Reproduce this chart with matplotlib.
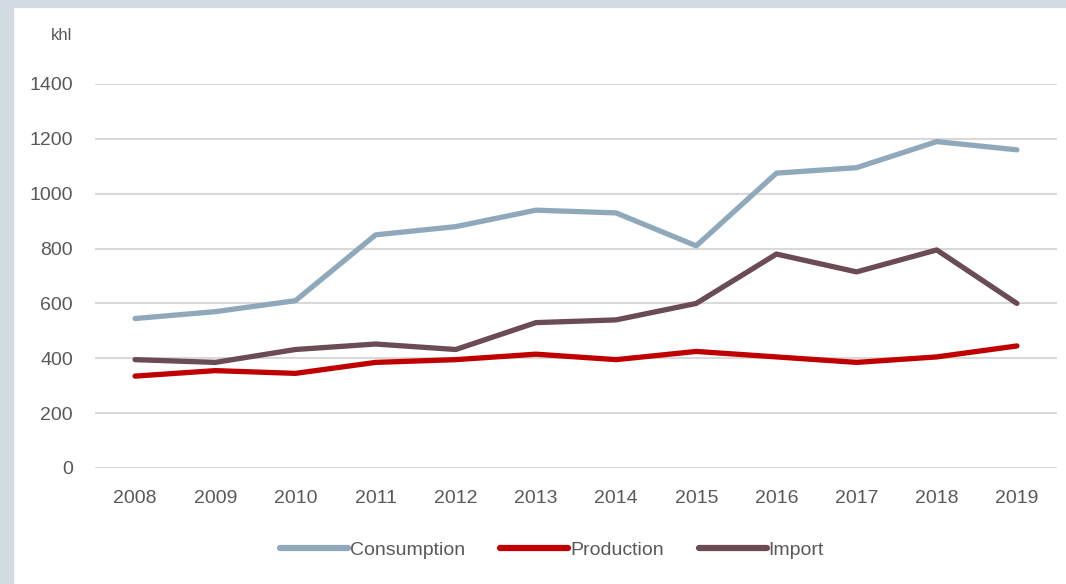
import matplotlib
matplotlib.use("Agg")
from matplotlib import pyplot as plt
from matplotlib.patches import Rectangle

years = ["2008", "2009", "2010", "2011", "2012", "2013",
         "2014", "2015", "2016", "2017", "2018", "2019"]
consumption = [545, 570, 610, 850, 880, 940, 930, 810, 1075, 1095, 1190, 1160]
production = [335, 355, 345, 385, 395, 415, 395, 425, 405, 385, 405, 445]
imports = [395, 385, 432, 452, 432, 530, 540, 600, 780, 715, 795, 600]

plt.rcParams['font.family'] = ['Liberation Sans Narrow', 'Liberation Sans', 'DejaVu Sans']
text_col = "#595959"

fig = plt.figure(figsize=(10.66, 5.84), dpi=100)
W, H = 1066, 584

# light frame strips on the left and top
fig.patches.append(Rectangle((0, 0), 13 / W, 1, transform=fig.transFigure,
                             color="#d3dce3", zorder=0))
fig.patches.append(Rectangle((0, 1 - 7 / H), 1, 7 / H, transform=fig.transFigure,
                             color="#d3dce3", zorder=0))

ax = fig.add_axes([95 / W, 1 - 468 / H, (1057 - 95) / W, (468 - 84) / H])
x = list(range(len(years)))

ax.plot(x, consumption, color="#8fa9bb", lw=3.8, solid_capstyle="round", label="Consumption")
ax.plot(x, production, color="#c00000", lw=3.8, solid_capstyle="round", label="Production")
ax.plot(x, imports, color="#6b4b54", lw=3.8, solid_capstyle="round", label="Import")

ax.set_xlim(-0.5, len(years) - 0.5)
ax.set_ylim(0, 1400)
ax.set_yticks(range(0, 1401, 200))
ax.set_xticks(x)
ax.set_xticklabels(years)
ax.yaxis.grid(True, color="#d9d9d9", lw=1.5)
ax.set_axisbelow(True)
for s in ax.spines.values():
    s.set_visible(False)
ax.tick_params(length=0, labelsize=14, colors=text_col)
ax.tick_params(axis="y", pad=16)
ax.tick_params(axis="x", pad=16)

fig.text(72 / W, 1 - 35 / H, "khl", ha="right", va="center", fontsize=12, color=text_col)

leg = fig.legend(loc="center", bbox_to_anchor=(552 / W, 1 - 550 / H), ncol=3,
                 frameon=False, fontsize=14, handlelength=3.5, handletextpad=0.1,
                 columnspacing=1.8)
for t in leg.get_texts():
    t.set_color(text_col)
for ln in leg.get_lines():
    ln.set_linewidth(4.5)

fig.savefig("out.png", dpi=100)
